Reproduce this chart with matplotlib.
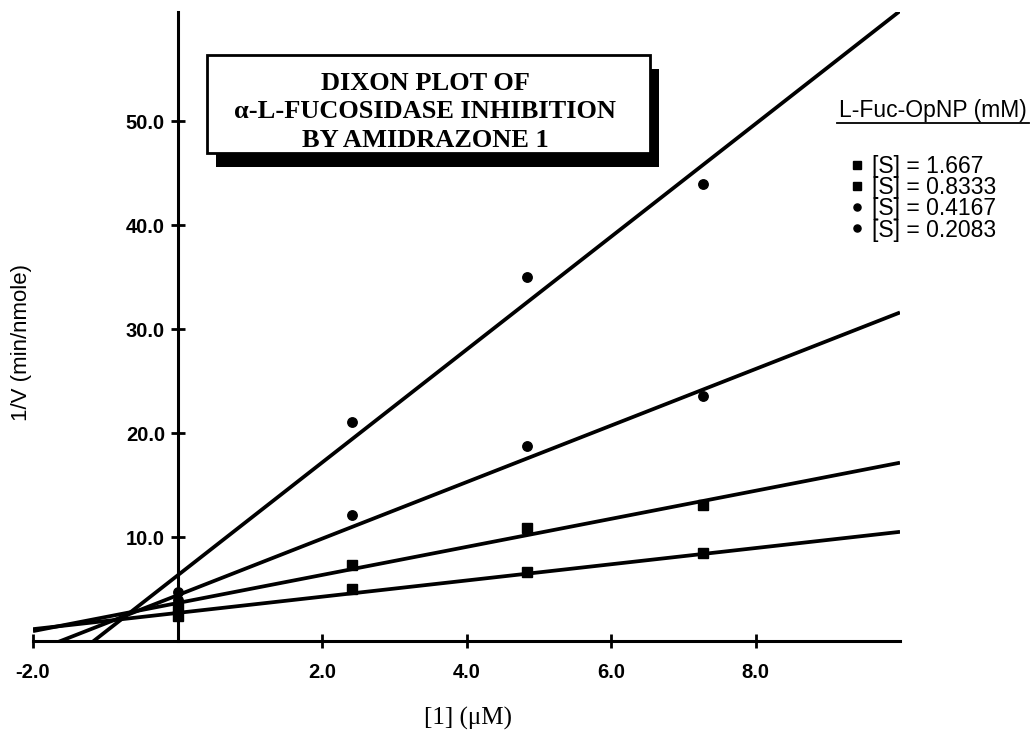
import matplotlib
matplotlib.use('Agg')
import numpy as np
import matplotlib.pyplot as plt
from matplotlib.patches import Rectangle
from matplotlib.lines import Line2D

plt.rcParams['font.family'] = ['Liberation Sans', 'DejaVu Sans']

# inhibitor concentration [1] (uM)
inhib = [0.0, 2.42, 4.84, 7.27]

# 1/V (min/nmole) for each substrate concentration
conc_labels = ['[S] = 1.667', '[S] = 0.8333', '[S] = 0.4167', '[S] = 0.2083']
v_1667 = [2.4, 5.0, 6.6, 8.5]
v_08333 = [3.2, 7.3, 10.9, 13.1]
v_04167 = [3.9, 12.1, 18.8, 23.6]
v_02083 = [4.7, 21.1, 35.0, 44.0]

# fitted lines
fit_slope = [0.78, 1.35, 2.72, 5.43]
fit_icpt = [2.7, 3.65, 4.4, 6.3]

markers = ['s', 's', 'o', 'o']

xticks = [-2, 2, 4, 6, 8]
xtick_labels = ['-2.0', '2.0', '4.0', '6.0', '8.0']
yticks = [10, 20, 30, 40, 50]
ytick_labels = ['10.0', '20.0', '30.0', '40.0', '50.0']

W, H = 1031, 744
fig = plt.figure(figsize=(W / 100, H / 100), dpi=100)
ax = fig.add_axes([33 / W, 1 - 641 / H, 867 / W, 629 / H])


def fx(px):
    return px / W


def fy(py):
    return 1 - py / H


xmin, xmax = -2, 10
ax.set_xlim(xmin, xmax)
ax.set_ylim(0, 60.5)

series = [v_1667, v_08333, v_04167, v_02083]
handles = []
xl = np.array([xmin, xmax])
for vals, m, s, b, lab in zip(series, markers, fit_slope, fit_icpt, conc_labels):
    ax.plot(xl, s * xl + b, color='black', lw=2.7, solid_capstyle='butt')
    h, = ax.plot(inhib, vals, ls='none', marker=m, ms=6.8, color='black', label=lab)
    handles.append(h)

# axes like the original: y axis through x = 0
ax.spines['left'].set_position(('data', 0))
ax.spines['right'].set_visible(False)
ax.spines['top'].set_visible(False)
for sp in ['left', 'bottom']:
    ax.spines[sp].set_linewidth(2.2)

ax.set_xticks(xticks)
ax.set_xticklabels(xtick_labels)
ax.set_yticks(yticks)
ax.set_yticklabels(ytick_labels)
ax.tick_params(direction='inout', length=10, width=2, labelsize=14.5)
ax.tick_params(axis='x', pad=11)
ax.tick_params(axis='y', pad=4)
for t in ax.get_xticklabels() + ax.get_yticklabels():
    t.set_fontweight('bold')

fig.text(fx(468), fy(718), '[1] (\u03bcM)', ha='center', va='center',
         family='Liberation Serif', fontsize=18)
fig.text(fx(22), fy(343), '1/V (min/nmole)', ha='center', va='center',
         rotation=90, fontsize=16)

# title box with drop shadow
bl, bt, br, bb = 207, 55, 650, 153
shadow = Rectangle((fx(bl + 9), fy(bb + 14)), fx(br - bl), (bb - bt) / H,
                   transform=fig.transFigure, facecolor='black', edgecolor='none', zorder=5)
box = Rectangle((fx(bl), fy(bb)), fx(br - bl), (bb - bt) / H,
                transform=fig.transFigure, facecolor='white', edgecolor='black', lw=2, zorder=6)
fig.add_artist(shadow)
fig.add_artist(box)
title_lines = ['DIXON PLOT OF', '\u03b1-L-FUCOSIDASE INHIBITION', 'BY AMIDRAZONE 1']
for i, line in enumerate(title_lines):
    fig.text(fx(425), fy(90 + 28.5 * i), line, ha='center', va='baseline',
             family='Liberation Serif', fontweight='bold', fontsize=19, zorder=7)

# legend
fig.text(fx(933), fy(111), 'L-Fuc-OpNP (mM)', ha='center', va='center', fontsize=16.5)
fig.add_artist(Line2D([fx(837), fx(1029)], [fy(123), fy(123)], color='black', lw=1.3,
                      transform=fig.transFigure))
ax.legend(handles=handles, loc='upper left', bbox_to_anchor=(fx(850), fy(155)),
          bbox_transform=fig.transFigure, frameon=False, fontsize=16.5,
          handlelength=0.65, handletextpad=0.3, labelspacing=-0.08, borderpad=0,
          borderaxespad=0, markerscale=0.75)

fig.savefig('out.png', dpi=100)
